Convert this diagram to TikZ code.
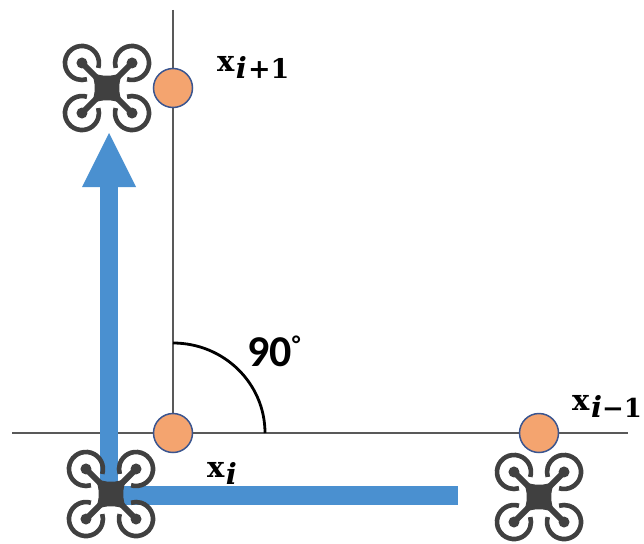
\documentclass[tikz,border=0pt]{standalone}
\usepackage{fontspec}
\newfontfamily\labfont{DejaVu Serif}
\newfontfamily\degfont{Carlito}
\definecolor{dronegray}{HTML}{404040}
\definecolor{flowblue}{HTML}{4A90D0}
\definecolor{dotfill}{HTML}{F4A46F}
\definecolor{dotedge}{HTML}{3A5590}
\newcommand{\bigsub}[2]{{\labfont\bfseries\fontsize{29}{29}\selectfont x}\kern1.5pt\raisebox{-7pt}{\labfont\bfseries\fontsize{29}{29}\selectfont #2}}
\tikzset{
  x=1pt,y=-1pt,
  axisline/.style={draw=black!65,line width=1.4pt},
  waypoint/.style={circle,draw=dotedge,fill=dotfill,line width=1.5pt,minimum size=39pt,inner sep=0pt},
  flow/.style={draw=flowblue,line width=18.5pt},
  lbl/.style={inner sep=0pt,anchor=base west},
  drone/.pic={
    \fill[dronegray] (-16,-16) .. controls (-6,-11) and (6,-11) .. (16,-16)
       .. controls (11,-6) and (11,6) .. (16,16)
       .. controls (6,11) and (-6,11) .. (-16,16)
       .. controls (-11,6) and (-11,-6) .. (-16,-16) -- cycle;
    \foreach \a in {45,135,225,315}{
      \begin{scope}[rotate=\a]
        \draw[dronegray,line width=6pt] (0,0) -- (35.4,0);
        \fill[dronegray] (35.4,0) circle (5.5);
        \draw[dronegray,line width=4.6pt] (35.4,0) ++(152:17) arc (152:-152:17);
      \end{scope}
    }
  }
}
\begin{document}
\begin{tikzpicture}
\useasboundingbox (0,0) rectangle (644,543);
\fill[white] (0,0) rectangle (644,543);
\coordinate (vtop) at (173,10);
\coordinate (hleft) at (12,433);
\coordinate (hright) at (628,433);
\coordinate (corner) at (173,433);
\coordinate (barend) at (458,497);
\coordinate (start) at (109,495);
\coordinate (shaftend) at (109,184);
\coordinate (tip) at (109,133);
\coordinate (arcstart) at (173,343);
\draw[axisline] (vtop) -- (corner);
\draw[axisline] (hleft) -- (hright);
\draw[black,line width=2.8pt] (arcstart) arc (90:0:92 and -90);
\node[waypoint] (p1) at (173,88) {};
\node[waypoint] (p2) at (corner) {};
\node[waypoint] (p3) at (539,433) {};
\draw[flow] (start) -- (shaftend);
\draw[flow,line width=19pt] (start) -- (start -| barend);
\fill[flowblue] (tip) -- (136,187) -- (82,187) -- cycle;
\pic at (107,88) {drone};
\pic at (111,494) {drone};
\pic at (539,497) {drone};
\node[lbl] (l1) at (217,71) {\bigsub{x}{\itshape i\kern1pt\upshape\fontsize{27}{27}\selectfont +1}};
\node[lbl] (l2) at (207,477) {\bigsub{x}{\itshape i}};
\node[lbl] (l3) at (572,410) {\bigsub{x}{\itshape i\upshape\fontsize{26}{26}\selectfont −1}};
\node[inner sep=0pt,anchor=center,font=\degfont\bfseries\fontsize{44}{44}\selectfont] (ang) at (274,351) {90\raisebox{14pt}{\fontsize{24}{24}\selectfont°}};
\end{tikzpicture}
\end{document}
